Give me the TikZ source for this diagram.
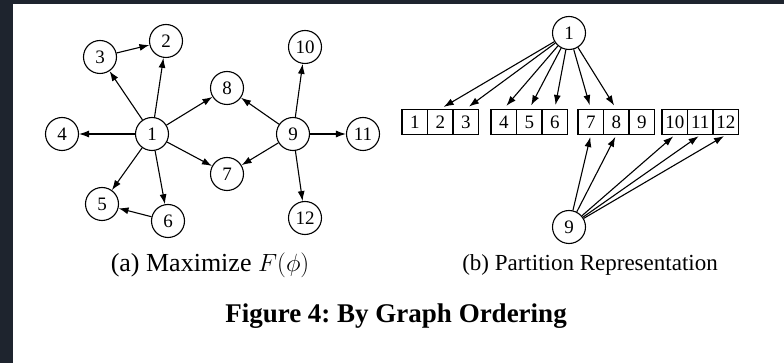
\documentclass[tikz,border=0pt]{standalone}
\usepackage{fontspec}
\setmainfont{Liberation Serif}
\usetikzlibrary{arrows.meta}
\definecolor{frame}{RGB}{30,36,46}
\frenchspacing

\begin{document}
\begin{tikzpicture}
    [
        x = 1pt, y = -1pt,
        vertex/.style = {circle, draw, line width = 1.1pt, minimum size = 33pt, inner sep = 0pt,
                font = \fontsize{19}{19}\selectfont},
        cell/.style = {draw, line width = 1.1pt, minimum width = 25.5pt, minimum height = 25pt,
                inner sep = 0pt, font = \fontsize{19}{19}\selectfont},
        link/.style = {-{Latex[length=10pt,width=7pt]}, line width = 1.1pt},
        caption/.style = {anchor = base, font = \fontsize{24}{28}\selectfont},
    ]

    \fill[frame] (0,0) rectangle (784,363);
    \fill[white] (13,4) rectangle (784,363);

    \node[vertex] (g1) at (152,134) {1};
    \node[vertex] (g2) at (166,41) {2};
    \node[vertex] (g3) at (100,57) {3};
    \node[vertex] (g4) at (62,134) {4};
    \node[vertex] (g5) at (102,204) {5};
    \node[vertex] (g6) at (168,221) {6};
    \node[vertex] (g7) at (227,174) {7};
    \node[vertex] (g8) at (227,88) {8};
    \node[vertex] (g9) at (293,134) {9};
    \node[vertex] (g10) at (305,47) {10};
    \node[vertex] (g11) at (363,134) {11};
    \node[vertex] (g12) at (305,218) {12};

    \foreach \v in {2,...,8}{
            \draw[link] (g1) -- (g\v);
        }
    \draw[link] (g3) -- (g2);
    \draw[link] (g6) -- (g5);
    \foreach \v in {7,8,10,11,12}{
            \draw[link] (g9) -- (g\v);
        }

    \node[vertex] (t1) at (569,33) {1};
    \node[vertex] (b9) at (569,227) {9};

    \foreach \g/\x in {0/402,1/491,2/578,3/662}{
            \foreach \k in {1,2,3}{
                    \pgfmathtruncatemacro\n{3*\g+\k}
                    \node[cell] (c\n) at ({\x+(\k-0.5)*25.5},122) {\n};
                }
        }

    \foreach \v in {2,...,8}{
            \draw[link, shorten >= 4pt] (t1) -- (c\v.north);
        }
    \foreach \v in {7,8,10,11,12}{
            \draw[link, shorten >= 2pt] (b9) -- (c\v.south);
        }

    \node[caption, font = \fontsize{26}{30}\selectfont] (capa) at (210,272) {(a) Maximize $F(\phi)$};
    \node[caption, font = \fontsize{23}{28}\selectfont] (capb) at (590,270) {(b) Partition Representation};
    \node[caption, font = \fontsize{27}{32}\selectfont\bfseries] (title) at (396,322)
    {Figure 4: By Graph Ordering};

\end{tikzpicture}
\end{document}
